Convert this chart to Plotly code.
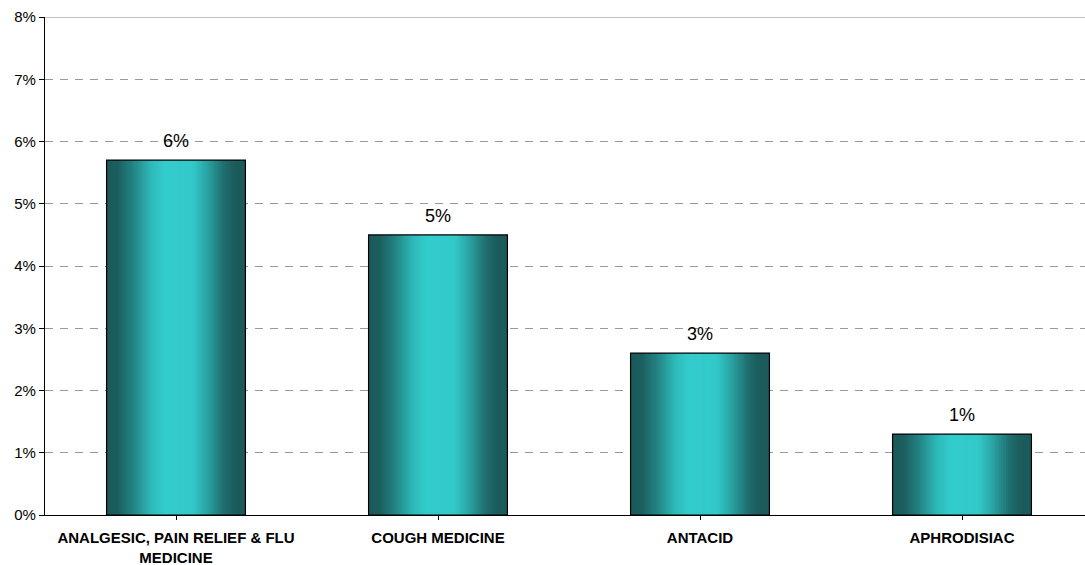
import plotly.graph_objects as go

categories = ["ANALGESIC, PAIN RELIEF & FLU<br>MEDICINE", "COUGH MEDICINE", "ANTACID", "APHRODISIAC"]
values = [5.7, 4.5, 2.6, 1.3]
value_labels = ["6%", "5%", "3%", "1%"]
y_ticks = [0, 1, 2, 3, 4, 5, 6, 7, 8]
y_tick_labels = ["0%", "1%", "2%", "3%", "4%", "5%", "6%", "7%", "8%"]

# horizontal gradient stops (position across bar, colour)
grad_stops = [(0.0, (28, 90, 90)), (0.08, (28, 94, 94)), (0.20, (36, 135, 135)),
              (0.32, (46, 185, 185)), (0.42, (51, 204, 204)), (0.62, (50, 201, 201)),
              (0.72, (42, 165, 165)), (0.84, (32, 112, 112)), (0.92, (28, 92, 92)),
              (1.0, (28, 90, 90))]

def grad_color(t):
    for (p0, c0), (p1, c1) in zip(grad_stops[:-1], grad_stops[1:]):
        if p0 <= t <= p1:
            f = (t - p0) / (p1 - p0)
            c = [round(a + (b - a) * f) for a, b in zip(c0, c1)]
            return f"rgb({c[0]},{c[1]},{c[2]})"
    return "rgb(28,90,90)"

bar_w = 0.53
n_slices = 60
x_idx = list(range(len(categories)))

fig = go.Figure()
sw = bar_w / n_slices
for i in range(n_slices):
    t = (i + 0.5) / n_slices
    fig.add_trace(go.Bar(
        x=x_idx, y=values,
        width=[sw * 1.8 if i < n_slices - 1 else sw] * len(values),
        offset=[-bar_w / 2 + i * sw] * len(values),
        marker=dict(color=grad_color(t), line=dict(width=0)),
        hoverinfo="skip", showlegend=False,
    ))

# outline
fig.add_trace(go.Bar(
    x=x_idx, y=values, width=bar_w,
    marker=dict(color="rgba(0,0,0,0)", line=dict(color="black", width=1.2)),
    showlegend=False,
))

# value labels
for xi, v, lab in zip(x_idx, values, value_labels):
    fig.add_annotation(x=xi, y=v, text=lab, showarrow=False,
                       xanchor="center", yanchor="bottom", yshift=7,
                       font=dict(family="Liberation Sans, Arial", size=18, color="black"))

fig.update_layout(
    barmode="overlay",
    width=1085, height=565,
    margin=dict(l=45, r=0, t=17, b=50),
    plot_bgcolor="white", paper_bgcolor="white",
    font=dict(family="Liberation Sans, Arial", color="black"),
    xaxis=dict(
        tickmode="array", tickvals=x_idx, ticktext=[f"<b>{c}</b>" for c in categories],
        range=[-0.5, -0.5 + 1040 / 262],
        showline=True, linecolor="black", linewidth=1.2,
        ticks="outside", ticklen=4, tickcolor="black", tickson="boundaries",
        ticklabelstandoff=5,
        tickfont=dict(size=15, family="Liberation Sans, Arial", color="black"),
        showgrid=False, zeroline=False,
    ),
    yaxis=dict(
        range=[0, 8], tickvals=y_ticks, ticktext=y_tick_labels,
        showline=True, linecolor="black", linewidth=1.2,
        ticks="outside", ticklen=5, tickcolor="black",
        tickfont=dict(size=15, family="Liberation Sans, Arial", color="black"),
        showgrid=True, gridcolor="#999999", griddash="8px,7px", gridwidth=1,
        zeroline=False,
    ),
    shapes=[dict(type="line", xref="paper", yref="y", x0=0, x1=1, y0=8, y1=8,
                 line=dict(color="#888888", width=1.2))],
)

fig.write_html("out.html", config={"displayModeBar": False},
               post_script="document.body.style.margin='0';document.body.style.padding='0';")
